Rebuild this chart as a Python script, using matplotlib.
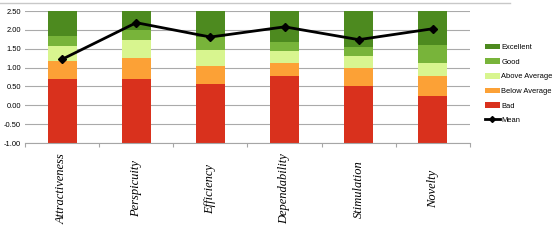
import matplotlib
matplotlib.use("Agg")
import matplotlib.pyplot as plt
from matplotlib.patches import Patch
from matplotlib.lines import Line2D
import numpy as np

# benchmark bands (upper bound of each band), bars stack up from -1
CATEGORIES = ["Attractiveness", "Perspicuity", "Efficiency", "Dependability", "Stimulation", "Novelty"]
BAD_UPPER = [0.69, 0.71, 0.57, 0.77, 0.50, 0.24]
BELOW_UPPER = [1.17, 1.25, 1.05, 1.12, 0.99, 0.77]
ABOVE_UPPER = [1.57, 1.72, 1.47, 1.45, 1.30, 1.11]
GOOD_UPPER = [1.83, 1.99, 1.80, 1.69, 1.54, 1.61]
EXCELLENT_UPPER = [2.50, 2.50, 2.50, 2.50, 2.50, 2.50]
MEAN = [1.22, 2.19, 1.81, 2.08, 1.74, 2.03]

Y_MIN, Y_MAX = -1.0, 2.5

COLORS = {
    "Excellent": "#4d8a1f",
    "Good": "#78b43a",
    "Above Average": "#d8f58f",
    "Below Average": "#fca136",
    "Bad": "#d9311d",
}

plt.rcParams["font.family"] = ["Liberation Sans", "DejaVu Sans"]

fig = plt.figure(figsize=(5.53, 2.4), dpi=100)
ax = fig.add_axes([25 / 553, 97 / 240, 445 / 553, 132 / 240])

x = np.arange(len(CATEGORIES))
bands = [
    ("Bad", BAD_UPPER),
    ("Below Average", BELOW_UPPER),
    ("Above Average", ABOVE_UPPER),
    ("Good", GOOD_UPPER),
    ("Excellent", EXCELLENT_UPPER),
]
bottom = np.full(len(x), Y_MIN)
for name, upper in bands:
    upper = np.array(upper)
    ax.bar(x, upper - bottom, bottom=bottom, width=0.39, color=COLORS[name],
           linewidth=0, zorder=2)
    bottom = upper

ax.plot(x, MEAN, color="black", linewidth=2.0, marker="D", markersize=4.5,
        zorder=3)

ax.set_xlim(-0.5, len(x) - 0.5)
ax.set_ylim(Y_MIN, Y_MAX)
ax.set_yticks(np.arange(Y_MIN, Y_MAX + 0.01, 0.5))
ax.yaxis.set_major_formatter(matplotlib.ticker.FormatStrFormatter("%.2f"))
ax.grid(axis="y", color="#aaaaaa", linewidth=0.8, zorder=0)
ax.tick_params(axis="y", length=0, labelsize=5.4, pad=3)

for s in ["top", "right", "left"]:
    ax.spines[s].set_visible(False)
ax.spines["bottom"].set_color("#a6a6a6")
ax.spines["bottom"].set_linewidth(0.8)

ax.set_xticks(x)
ax.set_xticklabels(CATEGORIES, rotation=90, va="center", ha="center",
                   fontsize=9, family="Liberation Serif", style="italic")
ax.tick_params(axis="x", which="major", length=0, pad=33)
ax.set_xticks(np.arange(-0.5, len(x), 1.0), minor=True)
ax.tick_params(axis="x", which="minor", length=3, color="#a6a6a6", width=0.8)

handles = [Patch(facecolor=COLORS[n], edgecolor="none") for n in
           ["Excellent", "Good", "Above Average", "Below Average", "Bad"]]
handles.append(Line2D([0], [0], color="black", linewidth=2.0, marker="D",
                      markersize=3))
labels = ["Excellent", "Good", "Above Average", "Below Average", "Bad", "Mean"]
fig.legend(handles, labels, loc="upper left", bbox_to_anchor=(481 / 553, 1 - 40 / 240),
           frameon=False, fontsize=5.4, handlelength=2.0, handleheight=0.8,
           handletextpad=0.2, labelspacing=0.95, borderpad=0)

# spreadsheet border line at the top
fig.add_artist(Line2D([0, 510 / 553], [1 - 3 / 240, 1 - 3 / 240],
                      color="#c8c8c8", linewidth=1.0))

fig.savefig("out.png", dpi=100)
